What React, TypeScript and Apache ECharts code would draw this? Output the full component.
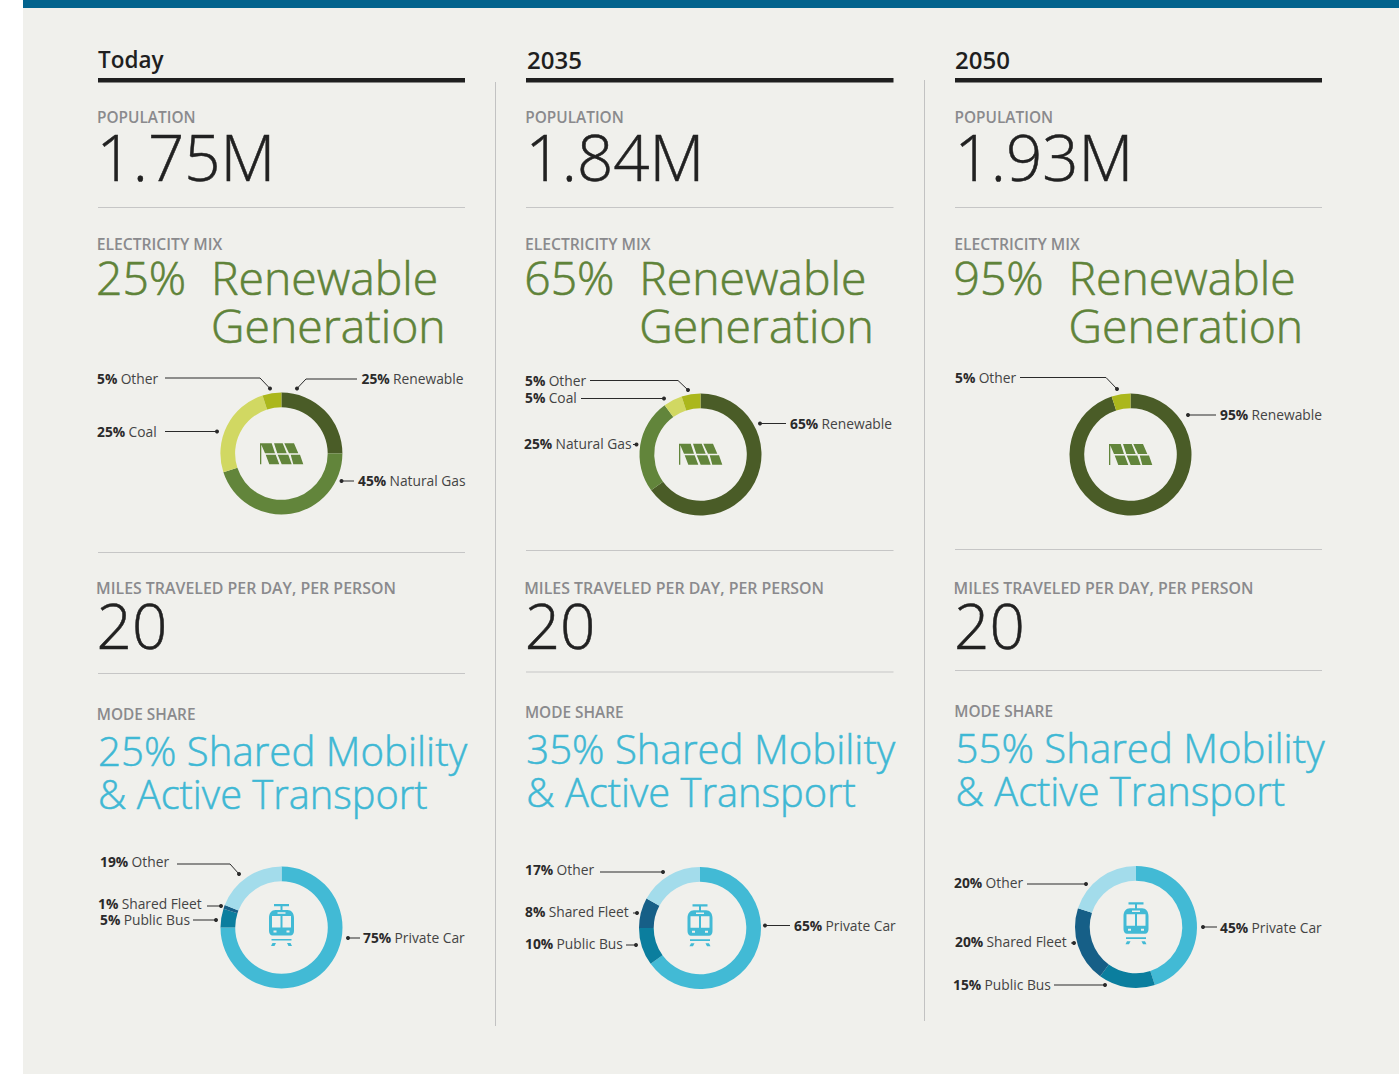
import React, { useEffect, useRef } from "react";
import * as echarts from "echarts";

const periods = ["Today", "2035", "2050"];
const populations = ["1.75M", "1.84M", "1.93M"];
const renewableShares = ["25%", "65%", "95%"];
const milesPerDay = ["20", "20", "20"];
const sharedShares = ["25%", "35%", "55%"];

const mixCategories = ["Renewable", "Natural Gas", "Coal", "Other"];
const mixToday = [25, 45, 25, 5];
const mix2035 = [65, 25, 5, 5];
const mix2050 = [95, 0, 0, 5];
const mixValues = [mixToday, mix2035, mix2050];

const modeCategories = ["Private Car", "Public Bus", "Shared Fleet", "Other"];
const modeToday = [75, 5, 1, 19];
const mode2035 = [65, 10, 8, 17];
const mode2050 = [45, 15, 20, 20];
const modeValues = [modeToday, mode2035, mode2050];

const mixColors = ["#4a5c27", "#62853b", "#d1d862", "#abb71c"];
const modeColors = ["#42bad5", "#0b7e9e", "#165f87", "#a3dceb"];

// Layout only
const FONT = '"Open Sans", "Noto Sans", sans-serif';
const GREY = "#8a8a8d";
const INK = "#212121";
const GREEN = "#5f8339";
const BLUE = "#3fb8d4";
const RULE = "#c6c6c6";

type Col = {
  x: number; yearX: number; popX: number; ruleL: number; ruleR: number;
  rule1: number; rule2: number; rule3: number;
  mixCx: number; mixCy: number; modeCx: number; modeCy: number;
  modeLabelY: number; shared1: number; shared2: number;
  solarX: number; solarY: number; trainY: number;
};
const cols: Col[] = [
  { x: 97, yearX: 98, popX: 96.5, ruleL: 98, ruleR: 465, rule1: 207.5, rule2: 552.5, rule3: 673.5, mixCx: 281.4, mixCy: 453.5, modeCx: 281.5, modeCy: 927.5, modeLabelY: 714.5, shared1: 750.5, shared2: 793.5, solarX: 260, solarY: 443.3, trainY: 904 },
  { x: 525.2, yearX: 527, popX: 525.5, ruleL: 526, ruleR: 893.5, rule1: 207.5, rule2: 550.5, rule3: 672, mixCx: 700.5, mixCy: 454.5, modeCx: 700, modeCy: 928, modeLabelY: 712.5, shared1: 748.5, shared2: 791.5, solarX: 679, solarY: 443.7, trainY: 904.3 },
  { x: 954.5, yearX: 955, popX: 954.5, ruleL: 955, ruleR: 1322, rule1: 207.5, rule2: 549.5, rule3: 670.5, mixCx: 1130.5, mixCy: 454.5, modeCx: 1136, modeCy: 927, modeLabelY: 711.5, shared1: 747, shared2: 790.5, solarX: 1109, solarY: 444, trainY: 902.3 },
];

// [text x, text y, line points..., last point carries the dot]; keyed by category index
type Leader = { tx: number; ty: number; pts: number[][] };
const mixLeaders: (Leader | null)[][] = [
  [
    { tx: 361.5, ty: 378, pts: [[357, 379], [306, 379], [297, 388.5]] },
    { tx: 358, ty: 480.5, pts: [[354, 481], [341.5, 481]] },
    { tx: 97, ty: 431.5, pts: [[165, 431.5], [217, 431.5]] },
    { tx: 97, ty: 378, pts: [[165, 378], [260, 378], [270, 388.5]] },
  ],
  [
    { tx: 790, ty: 423, pts: [[786, 423.5], [760, 423.5]] },
    { tx: 524, ty: 443, pts: [[633, 444.5], [636.5, 444.5]] },
    { tx: 525, ty: 397.5, pts: [[581, 398.5], [664, 398.5]] },
    { tx: 525, ty: 380.5, pts: [[590, 380.5], [678, 380.5], [688, 390]] },
  ],
  [
    { tx: 1220, ty: 414, pts: [[1216, 415], [1188, 415]] },
    null,
    null,
    { tx: 955, ty: 377.5, pts: [[1020, 377.5], [1106, 377.5], [1117, 389]] },
  ],
];
const modeLeaders: Leader[][] = [
  [
    { tx: 363, ty: 937, pts: [[360, 938], [348, 938]] },
    { tx: 100, ty: 919.5, pts: [[193, 920], [216, 920]] },
    { tx: 98, ty: 903.5, pts: [[207, 906], [221, 906]] },
    { tx: 100, ty: 861.5, pts: [[177, 864], [230, 864], [239, 874]] },
  ],
  [
    { tx: 794, ty: 925, pts: [[790, 925.5], [765, 925.5]] },
    { tx: 525, ty: 943.5, pts: [[626, 945], [636, 945]] },
    { tx: 525, ty: 911.5, pts: [[633, 913], [637, 913]] },
    { tx: 525, ty: 869.5, pts: [[600, 872], [663, 872]] },
  ],
  [
    { tx: 1220, ty: 927.5, pts: [[1217, 927], [1203, 927]] },
    { tx: 953, ty: 984.5, pts: [[1054, 985], [1105, 985]] },
    { tx: 955, ty: 941.5, pts: [[1071, 943], [1074, 943]] },
    { tx: 954, ty: 882.5, pts: [[1027, 884], [1086, 884]] },
  ],
];

const SOLAR_D = "M0 0H1.3V21H0Z M0.7 0H11.7L15 10H5Z M14 0H22.7L26.7 10H17.3Z M24.3 0H34L38.3 10H29Z M5.7 11.5H15.7L19.3 21H9.3Z M17.7 11.5H28.3L31.7 21H21.7Z M30.7 11.5H40L43.3 21H33.3Z";
const TRAIN_D =
  "M-7.5 0H7.5V2.2H-7.5Z M-1 2H1V6H-1Z " +
  "M-6 6H6C10 6 12.5 9 12.5 14V27C12.5 29.5 11 31.5 9 31.5H-9C-11 31.5 -12.5 29.5 -12.5 27V14C-12.5 9 -10 6 -6 6Z " +
  "M-4 8.2V9.8H4V8.2Z M-9.5 12V23.5H-1V12Z M1 12V23.5H9.5V12Z " +
  "M-8 26.5V28.5H-5V26.5Z M5 26.5V28.5H8V26.5Z " +
  "M-10 35H10V36.6H-10Z M-9 39H-5.5L-7 42H-10.5Z M5.5 39H9L10.5 42H7Z";

function text(x: number, y: number, t: string, size: number, color: string, weight: number | string = 400, stroke = 0, lineHeight?: number): any {
  const style: any = { text: t, fontFamily: FONT, fontSize: size, fontWeight: weight, fill: color, verticalAlign: "middle", align: "left" };
  if (lineHeight) style.lineHeight = lineHeight;
  if (stroke) { style.stroke = color; style.lineWidth = stroke; }
  return { type: "text", x, y, z: 10, silent: true, style };
}

function leader(l: Leader, value: number, name: string): any[] {
  const last = l.pts[l.pts.length - 1];
  return [
    {
      type: "text", x: l.tx, y: l.ty, z: 10, silent: true,
      style: {
        text: `{b|${value}%} {n|${name}}`,
        verticalAlign: "middle", align: "left",
        rich: {
          b: { fontFamily: FONT, fontSize: 13.8, fontWeight: 700, fill: "#2a2a2a" },
          n: { fontFamily: FONT, fontSize: 13.8, fontWeight: 400, fill: "#444444" },
        },
      },
    },
    { type: "polyline", z: 10, silent: true, shape: { points: l.pts }, style: { stroke: "#2a2a2a", lineWidth: 1, fill: "none" } },
    { type: "circle", z: 10, silent: true, shape: { cx: last[0], cy: last[1], r: 2 }, style: { fill: "#2a2a2a" } },
  ];
}

function pie(name: string, cats: string[], vals: number[], colors: string[], cx: number, cy: number): any {
  return {
    type: "pie", name, silent: true, animation: false,
    center: [cx, cy], radius: [46.3, 61], startAngle: 90, clockwise: true,
    avoidLabelOverlap: false, label: { show: false }, labelLine: { show: false },
    itemStyle: { borderWidth: 0 },
    data: cats.map((c, i) => ({ name: c, value: vals[i], itemStyle: { color: colors[i] } })),
  };
}

export default function App() {
  const ref = useRef<HTMLDivElement>(null);
  useEffect(() => {
    if (!ref.current) return;
    echarts.graphic.registerShape("solarIcon", echarts.graphic.extendPath(SOLAR_D, {}) as any);
    echarts.graphic.registerShape("trainIcon", echarts.graphic.extendPath(TRAIN_D, {}) as any);
    const chart = echarts.init(ref.current, undefined, { renderer: "svg" });

    const g: any[] = [
      { type: "rect", z: 0, silent: true, shape: { x: 23, y: 0, width: 1376, height: 1074 }, style: { fill: "#f0f0ec" } },
      { type: "rect", z: 1, silent: true, shape: { x: 23, y: 0, width: 1376, height: 8 }, style: { fill: "#02638d" } },
      { type: "line", z: 1, silent: true, shape: { x1: 495.5, y1: 82, x2: 495.5, y2: 1026 }, style: { stroke: "#c2c2c2", lineWidth: 1 } },
      { type: "line", z: 1, silent: true, shape: { x1: 924.5, y1: 80, x2: 924.5, y2: 1021 }, style: { stroke: "#c2c2c2", lineWidth: 1 } },
    ];
    const series: any[] = [];

    cols.forEach((c, i) => {
      g.push(text(c.yearX, 59, periods[i], i === 0 ? 22.5 : 24, "#1f1f1f", 600));
      g.push({ type: "rect", z: 2, silent: true, shape: { x: c.ruleL, y: 78, width: c.ruleR - c.ruleL, height: 4.5 }, style: { fill: "#1f1f1f" } });
      g.push(text(c.x, 117.5, "POPULATION", 15.4, GREY, 600, 0, 16));
      g.push(text(c.popX, 156, populations[i], 63.6, INK, 300, 0.5, 50));
      g.push({ type: "line", z: 2, silent: true, shape: { x1: c.ruleL, y1: c.rule1, x2: c.ruleR, y2: c.rule1 }, style: { stroke: RULE, lineWidth: 1 } });
      g.push(text(c.x - 0.3, 243.5, "ELECTRICITY MIX", 15.7, GREY, 600, 0, 16));
      g.push(text(c.x - 1, 277, renewableShares[i], 46.3, GREEN, 300, 0.6, 46));
      g.push(text(c.x + 114, 277, "Renewable", 46.3, GREEN, 300, 0.6, 46));
      g.push(text(c.x + 114, 325, "Generation", 46.3, GREEN, 300, 0.6, 46));
      g.push({ type: "solarIcon", z: 10, silent: true, x: c.solarX, y: c.solarY, style: { fill: "#62853b" } });
      g.push({ type: "line", z: 2, silent: true, shape: { x1: c.ruleL, y1: c.rule2, x2: c.ruleR, y2: c.rule2 }, style: { stroke: RULE, lineWidth: 1 } });
      g.push(text(c.x - 1, 587.5, "MILES TRAVELED PER DAY, PER PERSON", 15.9, GREY, 600, 0, 16));
      g.push(text(c.x - 0.5, 625, milesPerDay[i], 62, INK, 300, 0.5, 50));
      g.push({ type: "line", z: 2, silent: true, shape: { x1: c.ruleL, y1: c.rule3, x2: c.ruleR, y2: c.rule3 }, style: { stroke: RULE, lineWidth: 1 } });
      g.push(text(c.x - 0.3, c.modeLabelY, "MODE SHARE", 15.4, GREY, 600, 0, 16));
      g.push(text(c.x + 1, c.shared1, `${sharedShares[i]} Shared Mobility`, 40.2, BLUE, 300, 0.5, 40));
      g.push(text(c.x + 1, c.shared2, "& Active Transport", 39.8, BLUE, 300, 0.5, 40));
      g.push({ type: "trainIcon", z: 10, silent: true, x: c.modeCx, y: c.trainY, style: { fill: "#42bad5" } });

      mixLeaders[i].forEach((l, k) => { if (l) g.push(...leader(l, mixValues[i][k], mixCategories[k])); });
      modeLeaders[i].forEach((l, k) => { g.push(...leader(l, modeValues[i][k], modeCategories[k])); });

      series.push(pie(`Electricity ${periods[i]}`, mixCategories, mixValues[i], mixColors, c.mixCx, c.mixCy));
      series.push(pie(`Mode ${periods[i]}`, modeCategories, modeValues[i], modeColors, c.modeCx, c.modeCy));
    });

    chart.setOption({ animation: false, backgroundColor: "#ffffff", tooltip: { show: false }, legend: { show: false }, graphic: { elements: g }, series });
    return () => chart.dispose();
  }, []);
  return <div ref={ref} style={{ position: "absolute", left: 0, top: 0, width: 1399, height: 1074 }} />;
}
